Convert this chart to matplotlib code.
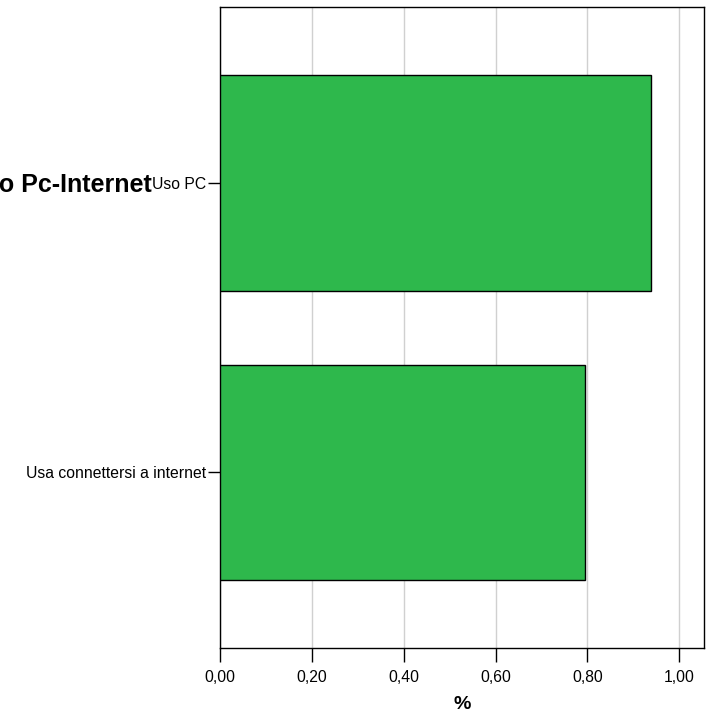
import matplotlib
matplotlib.use("Agg")
import matplotlib.pyplot as plt
from matplotlib.ticker import FuncFormatter

categories = ["Uso PC", "Usa connettersi a internet"]
values = [0.938, 0.795]
xticks = [0.0, 0.2, 0.4, 0.6, 0.8, 1.0]

plt.rcParams['font.family'] = ['Liberation Sans', 'DejaVu Sans']

fig = plt.figure(figsize=(7.07, 7.14), dpi=100)
ax = fig.add_axes([220 / 707, 66 / 714, 484 / 707, 641 / 714])

ypos = list(range(len(categories)))
ax.barh(ypos, values, height=0.747, color='#2EB84C', edgecolor='black',
        linewidth=1, zorder=3)

ax.set_xlim(0, 1.054)
ax.set_ylim(1.607, -0.61)
ax.set_xticks(xticks)
ax.xaxis.set_major_formatter(FuncFormatter(lambda v, p: f"{v:.2f}".replace('.', ',')))
ax.set_yticks(ypos)
ax.set_yticklabels(categories)
ax.grid(axis='x', color='#d0d0d0', linewidth=1, zorder=0)
ax.tick_params(axis='x', length=10, width=1, labelsize=11.3, pad=6)
ax.tick_params(axis='y', length=9, width=1, labelsize=11.3, pad=1)
for s in ax.spines.values():
    s.set_color('black')
    s.set_linewidth(1)

ax.set_xlabel("%", fontsize=14, fontweight='bold', labelpad=8)
# the label sits left of the axis and runs off the figure edge, as in the original
ax.set_ylabel("Uso Pc-Internet", fontsize=18, fontweight='bold', rotation=0,
              ha='right', va='center')
ax.yaxis.set_label_coords(-0.142, 0.722)

fig.savefig("out.png", dpi=100)
